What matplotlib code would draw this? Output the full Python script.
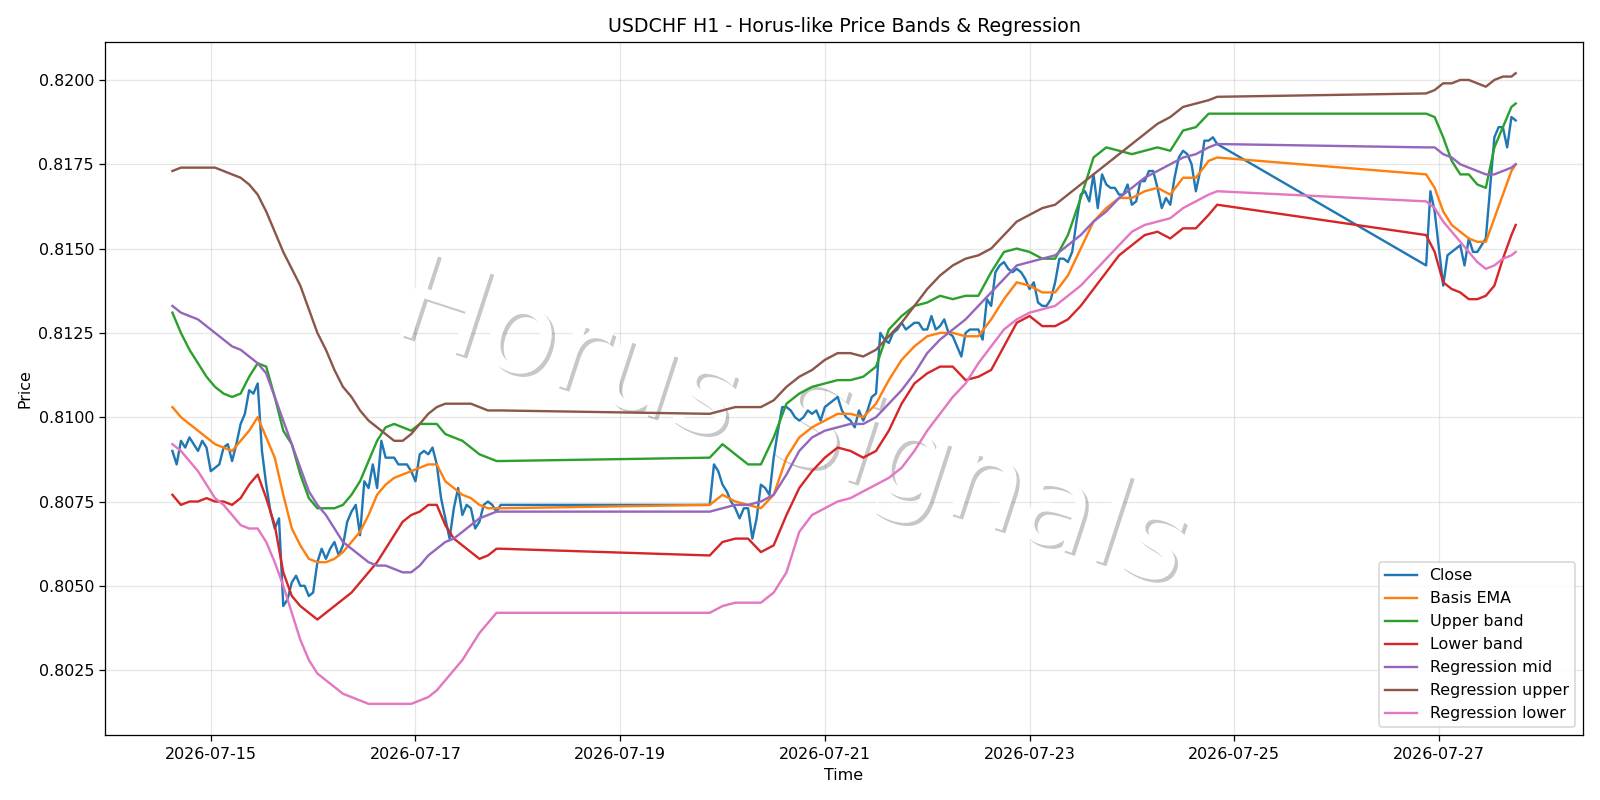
import matplotlib
matplotlib.use("Agg")
import matplotlib.pyplot as plt
import matplotlib.dates as mdates
import matplotlib.patheffects as pe
import pandas as pd

# ---------------- data ----------------
# trading sessions (hourly bars; weekends are gaps) and the step at which
# the indicator lines were read off the chart
sessions = [("2026-07-14 15:00", "2026-07-17 20:00", "2h"),
            ("2026-07-19 21:00", "2026-07-24 20:00", "3h"),
            ("2026-07-26 21:00", "2026-07-27 18:00", "2h")]

# Close, hourly
close_s1 = [0.8090, 0.8086, 0.8093, 0.8091, 0.8094, 0.8092, 0.8090, 0.8093, 0.8091,
            0.8084, 0.8085, 0.8086, 0.8091, 0.8092, 0.8087, 0.8092, 0.8098, 0.8101,
            0.8108, 0.8107, 0.8110, 0.8090, 0.8080, 0.8072, 0.8067, 0.8070, 0.8044,
            0.8046, 0.8051, 0.8053, 0.8050, 0.8050, 0.8047, 0.8048, 0.8057, 0.8061,
            0.8058, 0.8061, 0.8063, 0.8059, 0.8062, 0.8069, 0.8072, 0.8074, 0.8065,
            0.8081, 0.8079, 0.8086, 0.8079, 0.8093, 0.8088, 0.8088, 0.8088, 0.8086,
            0.8086, 0.8086, 0.8084, 0.8081, 0.8089, 0.8090, 0.8089, 0.8091, 0.8086,
            0.8076, 0.8070, 0.8064, 0.8073, 0.8079, 0.8071, 0.8074, 0.8073, 0.8067,
            0.8069, 0.8074, 0.8075, 0.8074, 0.8072, 0.8074]
close_s2 = [0.8074, 0.8086, 0.8084, 0.8080, 0.8078, 0.8075, 0.8073, 0.8070, 0.8073,
            0.8073, 0.8064, 0.8070, 0.8080, 0.8079, 0.8077, 0.8088, 0.8096, 0.8103,
            0.8103, 0.8102, 0.8100, 0.8099, 0.8100, 0.8102, 0.8101, 0.8102, 0.8099,
            0.8103, 0.8104, 0.8105, 0.8106, 0.8102, 0.8100, 0.8099, 0.8097, 0.8102,
            0.8099, 0.8102, 0.8106, 0.8107, 0.8125, 0.8123, 0.8122, 0.8125, 0.8126,
            0.8128, 0.8126, 0.8127, 0.8128, 0.8128, 0.8126, 0.8126, 0.8130, 0.8126,
            0.8127, 0.8129, 0.8125, 0.8124, 0.8121, 0.8118, 0.8125, 0.8126, 0.8126,
            0.8126, 0.8123, 0.8135, 0.8133, 0.8143, 0.8145, 0.8146, 0.8144, 0.8143,
            0.8144, 0.8143, 0.8141, 0.8138, 0.8140, 0.8134, 0.8133, 0.8133, 0.8135,
            0.8140, 0.8147, 0.8147, 0.8146, 0.8149, 0.8158, 0.8166, 0.8167, 0.8164,
            0.8172, 0.8162, 0.8172, 0.8169, 0.8168, 0.8168, 0.8166, 0.8166, 0.8169,
            0.8163, 0.8164, 0.8170, 0.8170, 0.8173, 0.8173, 0.8168, 0.8162, 0.8165,
            0.8163, 0.8171, 0.8177, 0.8179, 0.8178, 0.8175, 0.8167, 0.8173, 0.8182,
            0.8182, 0.8183, 0.8181]
close_s3 = [0.8145, 0.8167, 0.8161, 0.8150, 0.8139, 0.8148, 0.8149, 0.8150, 0.8151,
            0.8145, 0.8153, 0.8149, 0.8149, 0.8151, 0.8153, 0.8168, 0.8183, 0.8186,
            0.8186, 0.8180, 0.8189, 0.8188]

# Basis EMA
ema_s1 = [0.8103, 0.8100, 0.8098, 0.8096, 0.8094, 0.8092, 0.8091, 0.8090, 0.8093, 0.8096,
          0.8100, 0.8094, 0.8088, 0.8077, 0.8067, 0.8062, 0.8058, 0.8057, 0.8057, 0.8058,
          0.8060, 0.8063, 0.8066, 0.8071, 0.8077, 0.8080, 0.8082, 0.8083, 0.8084, 0.8085,
          0.8086, 0.8086, 0.8081, 0.8079, 0.8077, 0.8076, 0.8074, 0.8073, 0.8073, 0.8073]
ema_s2 = [0.8074, 0.8077, 0.8075, 0.8074, 0.8073, 0.8077, 0.8088, 0.8094, 0.8097, 0.8099,
          0.8101, 0.8101, 0.8100, 0.8104, 0.8111, 0.8117, 0.8121, 0.8124, 0.8125, 0.8125,
          0.8124, 0.8124, 0.8129, 0.8135, 0.8140, 0.8139, 0.8137, 0.8137, 0.8142, 0.8150,
          0.8158, 0.8162, 0.8165, 0.8165, 0.8167, 0.8168, 0.8166, 0.8171, 0.8171, 0.8176,
          0.8177]
ema_s3 = [0.8172, 0.8168, 0.8161, 0.8157, 0.8155, 0.8153, 0.8152, 0.8152, 0.8159, 0.8166,
          0.8173, 0.8175]

# Upper band
upper_s1 = [0.8131, 0.8125, 0.8120, 0.8116, 0.8112, 0.8109, 0.8107, 0.8106, 0.8107, 0.8112,
            0.8116, 0.8115, 0.8106, 0.8096, 0.8092, 0.8083, 0.8076, 0.8073, 0.8073, 0.8073,
            0.8074, 0.8077, 0.8081, 0.8087, 0.8093, 0.8097, 0.8098, 0.8097, 0.8096, 0.8098,
            0.8098, 0.8098, 0.8095, 0.8094, 0.8093, 0.8091, 0.8089, 0.8088, 0.8087, 0.8087]
upper_s2 = [0.8088, 0.8092, 0.8089, 0.8086, 0.8086, 0.8094, 0.8104, 0.8107, 0.8109, 0.8110,
            0.8111, 0.8111, 0.8112, 0.8115, 0.8126, 0.8130, 0.8133, 0.8134, 0.8136, 0.8135,
            0.8136, 0.8136, 0.8143, 0.8149, 0.8150, 0.8149, 0.8147, 0.8147, 0.8154, 0.8165,
            0.8177, 0.8180, 0.8179, 0.8178, 0.8179, 0.8180, 0.8179, 0.8185, 0.8186, 0.8190,
            0.8190]
upper_s3 = [0.8190, 0.8189, 0.8183, 0.8176, 0.8172, 0.8172, 0.8169, 0.8168, 0.8180, 0.8186,
            0.8192, 0.8193]

# Lower band
lower_s1 = [0.8077, 0.8074, 0.8075, 0.8075, 0.8076, 0.8075, 0.8075, 0.8074, 0.8076, 0.8080,
            0.8083, 0.8076, 0.8068, 0.8054, 0.8047, 0.8044, 0.8042, 0.8040, 0.8042, 0.8044,
            0.8046, 0.8048, 0.8051, 0.8054, 0.8057, 0.8061, 0.8065, 0.8069, 0.8071, 0.8072,
            0.8074, 0.8074, 0.8068, 0.8064, 0.8062, 0.8060, 0.8058, 0.8059, 0.8061, 0.8061]
lower_s2 = [0.8059, 0.8063, 0.8064, 0.8064, 0.8060, 0.8062, 0.8071, 0.8079, 0.8084, 0.8088,
            0.8091, 0.8090, 0.8088, 0.8090, 0.8096, 0.8104, 0.8110, 0.8113, 0.8115, 0.8115,
            0.8111, 0.8112, 0.8114, 0.8121, 0.8128, 0.8130, 0.8127, 0.8127, 0.8129, 0.8133,
            0.8138, 0.8143, 0.8148, 0.8151, 0.8154, 0.8155, 0.8153, 0.8156, 0.8156, 0.8160,
            0.8163]
lower_s3 = [0.8154, 0.8149, 0.8140, 0.8138, 0.8137, 0.8135, 0.8135, 0.8136, 0.8139, 0.8147,
            0.8154, 0.8157]

# Regression mid
mid_s1 = [0.8133, 0.8131, 0.8130, 0.8129, 0.8127, 0.8125, 0.8123, 0.8121, 0.8120, 0.8118,
          0.8116, 0.8113, 0.8106, 0.8099, 0.8092, 0.8085, 0.8078, 0.8074, 0.8071, 0.8067,
          0.8063, 0.8061, 0.8059, 0.8057, 0.8056, 0.8056, 0.8055, 0.8054, 0.8054, 0.8056,
          0.8059, 0.8061, 0.8063, 0.8064, 0.8066, 0.8068, 0.8070, 0.8071, 0.8072, 0.8072]
mid_s2 = [0.8072, 0.8073, 0.8074, 0.8074, 0.8075, 0.8077, 0.8083, 0.8090, 0.8094, 0.8096,
          0.8097, 0.8098, 0.8098, 0.8100, 0.8104, 0.8108, 0.8113, 0.8119, 0.8123, 0.8126,
          0.8129, 0.8133, 0.8137, 0.8141, 0.8145, 0.8146, 0.8147, 0.8148, 0.8151, 0.8154,
          0.8158, 0.8161, 0.8165, 0.8168, 0.8171, 0.8173, 0.8175, 0.8177, 0.8178, 0.8180,
          0.8181]
mid_s3 = [0.8180, 0.8180, 0.8178, 0.8177, 0.8175, 0.8174, 0.8173, 0.8172, 0.8172, 0.8173,
          0.8174, 0.8175]

# Regression upper
rup_s1 = [0.8173, 0.8174, 0.8174, 0.8174, 0.8174, 0.8174, 0.8173, 0.8172, 0.8171, 0.8169,
          0.8166, 0.8161, 0.8155, 0.8149, 0.8144, 0.8139, 0.8132, 0.8125, 0.8120, 0.8114,
          0.8109, 0.8106, 0.8102, 0.8099, 0.8097, 0.8095, 0.8093, 0.8093, 0.8095, 0.8098,
          0.8101, 0.8103, 0.8104, 0.8104, 0.8104, 0.8104, 0.8103, 0.8102, 0.8102, 0.8102]
rup_s2 = [0.8101, 0.8102, 0.8103, 0.8103, 0.8103, 0.8105, 0.8109, 0.8112, 0.8114, 0.8117,
          0.8119, 0.8119, 0.8118, 0.8120, 0.8124, 0.8128, 0.8133, 0.8138, 0.8142, 0.8145,
          0.8147, 0.8148, 0.8150, 0.8154, 0.8158, 0.8160, 0.8162, 0.8163, 0.8166, 0.8169,
          0.8172, 0.8175, 0.8178, 0.8181, 0.8184, 0.8187, 0.8189, 0.8192, 0.8193, 0.8194,
          0.8195]
rup_s3 = [0.8196, 0.8197, 0.8199, 0.8199, 0.8200, 0.8200, 0.8199, 0.8198, 0.8200, 0.8201,
          0.8201, 0.8202]

# Regression lower
rlo_s1 = [0.8092, 0.8090, 0.8087, 0.8084, 0.8080, 0.8076, 0.8074, 0.8071, 0.8068, 0.8067,
          0.8067, 0.8063, 0.8057, 0.8050, 0.8042, 0.8034, 0.8028, 0.8024, 0.8022, 0.8020,
          0.8018, 0.8017, 0.8016, 0.8015, 0.8015, 0.8015, 0.8015, 0.8015, 0.8015, 0.8016,
          0.8017, 0.8019, 0.8022, 0.8025, 0.8028, 0.8032, 0.8036, 0.8039, 0.8042, 0.8042]
rlo_s2 = [0.8042, 0.8044, 0.8045, 0.8045, 0.8045, 0.8048, 0.8054, 0.8066, 0.8071, 0.8073,
          0.8075, 0.8076, 0.8078, 0.8080, 0.8082, 0.8085, 0.8090, 0.8096, 0.8101, 0.8106,
          0.8110, 0.8116, 0.8121, 0.8126, 0.8129, 0.8131, 0.8132, 0.8133, 0.8136, 0.8139,
          0.8143, 0.8147, 0.8151, 0.8155, 0.8157, 0.8158, 0.8159, 0.8162, 0.8164, 0.8166,
          0.8167]
rlo_s3 = [0.8164, 0.8162, 0.8158, 0.8155, 0.8152, 0.8149, 0.8146, 0.8144, 0.8145, 0.8147,
          0.8148, 0.8149]

# ---------------- time axes ----------------
t_hourly = pd.DatetimeIndex([])
t_smooth = pd.DatetimeIndex([])
for s, e, step in sessions:
    t_hourly = t_hourly.append(pd.date_range(s, e, freq="h"))
    r = pd.date_range(s, e, freq=step)
    if r[-1] != pd.Timestamp(e):
        r = r.append(pd.DatetimeIndex([pd.Timestamp(e)]))
    t_smooth = t_smooth.append(r)

close = close_s1 + close_s2 + close_s3
ema = ema_s1 + ema_s2 + ema_s3
upper_band = upper_s1 + upper_s2 + upper_s3
lower_band = lower_s1 + lower_s2 + lower_s3
reg_mid = mid_s1 + mid_s2 + mid_s3
reg_upper = rup_s1 + rup_s2 + rup_s3
reg_lower = rlo_s1 + rlo_s2 + rlo_s3

# ---------------- plot ----------------
DPI = 1600 / 14
fig, ax = plt.subplots(figsize=(14, 7), dpi=DPI)

ax.text(0.192, 0.583, "Horus Signals", transform=ax.transAxes,
        fontsize=76, rotation=-18, rotation_mode="anchor",
        ha="left", va="baseline", color="white", zorder=1.6,
        path_effects=[pe.SimplePatchShadow(offset=(2, -2), shadow_rgbFace="black", alpha=0.22),
                      pe.Normal()])

ax.plot(t_hourly, close, label="Close", color="C0", zorder=2)
ax.plot(t_smooth, ema, label="Basis EMA", color="C1", zorder=2)
ax.plot(t_smooth, upper_band, label="Upper band", color="C2", zorder=2)
ax.plot(t_smooth, lower_band, label="Lower band", color="C3", zorder=2)
ax.plot(t_smooth, reg_mid, label="Regression mid", color="C4", zorder=2)
ax.plot(t_smooth, reg_upper, label="Regression upper", color="C5", zorder=2)
ax.plot(t_smooth, reg_lower, label="Regression lower", color="C6", zorder=2)

ax.xaxis.set_major_locator(mdates.DayLocator(bymonthday=range(1, 32, 2)))
ax.xaxis.set_major_formatter(mdates.DateFormatter("%Y-%m-%d"))
ax.set_title("USDCHF H1 - Horus-like Price Bands & Regression")
ax.set_xlabel("Time")
ax.set_ylabel("Price")
ax.grid(True, alpha=0.3)
ax.legend(loc="lower right")

fig.tight_layout()
fig.savefig("out.png", dpi=DPI)
